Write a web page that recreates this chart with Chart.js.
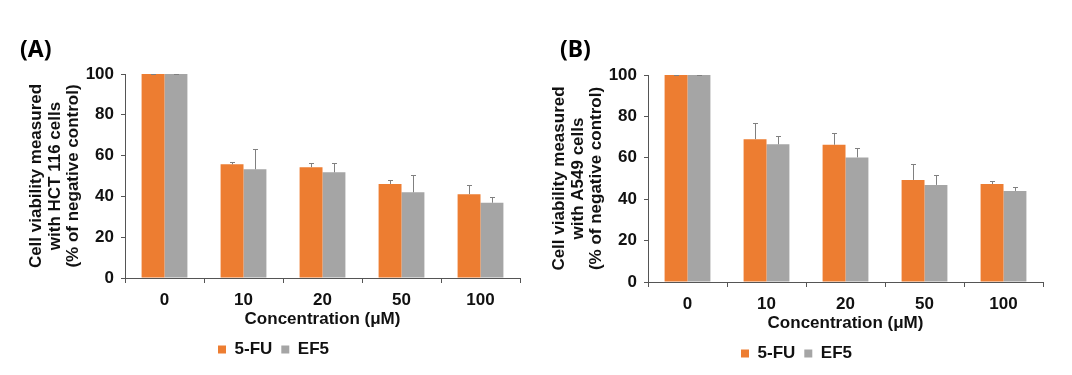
<!DOCTYPE html>
<html>
<head>
<meta charset="utf-8">
<script src="https://cdn.jsdelivr.net/npm/chart.js@4.4.1/dist/chart.umd.min.js"></script>
<style>
  body { margin: 0; background: #fff; width: 1072px; height: 375px; overflow: hidden; position: relative; }
  .panel { position: absolute; top: 0; height: 375px; }
</style>
</head>
<body>
<div class="panel" style="left:0;width:522px"><canvas id="chartA"></canvas></div>
<div class="panel" style="left:530px;width:515px"><canvas id="chartB"></canvas></div>
<script>
// concentrations (µM)
const concentrations = ['0', '10', '20', '50', '100'];

// (A) HCT 116 cells
const fuHct = [100, 55.7, 54.3, 46.1, 41.1];
const ef5Hct = [100, 53.3, 51.8, 42.0, 36.9];
const fuHctErr = [0, 1.3, 2.0, 2.0, 4.6];
const ef5HctErr = [0, 9.8, 4.7, 8.5, 2.6];

// (B) A549 cells
const fuA549 = [100, 69.0, 66.3, 49.3, 47.3];
const ef5A549 = [100, 66.5, 60.2, 46.9, 44.0];
const fuA549Err = [0, 7.9, 5.6, 7.5, 1.7];
const ef5A549Err = [0, 4.0, 4.3, 4.7, 1.7];

const FONT = "'Liberation Sans', Arial, sans-serif";
const TEXT = '#111';
const AXIS = '#555';

// upper error bars, drawn after the bars
const errorBars = {
  id: 'errorBars',
  afterDatasetsDraw(chart) {
    const { ctx } = chart;
    const yScale = chart.scales.y;
    ctx.save();
    ctx.strokeStyle = '#808080';
    ctx.lineWidth = 1;
    chart.data.datasets.forEach((ds, i) => {
      chart.getDatasetMeta(i).data.forEach((bar, j) => {
        const top = Math.round(yScale.getPixelForValue(ds.data[j] + ds.errors[j])) + 0.5;
        const x = Math.round(bar.x) + 0.5;
        ctx.beginPath();
        ctx.moveTo(x, bar.y);
        ctx.lineTo(x, top);
        ctx.moveTo(x - 2.5, top);
        ctx.lineTo(x + 2.5, top);
        ctx.stroke();
      });
    });
    ctx.restore();
  }
};

// "(A)" / "(B)" panel letters
const panelLabel = {
  id: 'panelLabel',
  afterDraw(chart, args, opts) {
    const { ctx } = chart;
    ctx.save();
    ctx.font = "bold 23px 'Noto Sans', sans-serif";
    ctx.fillStyle = '#000';
    ctx.textBaseline = 'middle';
    ctx.fillText(opts.text, opts.x, opts.y);
    ctx.restore();
  }
};

const makeChart = (id, cfg) => {
  const ctx = document.getElementById(id).getContext('2d');
  return new Chart(ctx, {
    type: 'bar',
    data: {
      labels: concentrations,
      datasets: [{
        label: '5-FU',
        data: cfg.fu,
        errors: cfg.fuErr,
        backgroundColor: '#ED7D31',
        categoryPercentage: 0.58,
        barPercentage: 1.0
      }, {
        label: 'EF5',
        data: cfg.ef5,
        errors: cfg.ef5Err,
        backgroundColor: '#A5A5A5',
        categoryPercentage: 0.58,
        barPercentage: 1.0
      }]
    },
    plugins: [errorBars, panelLabel],
    options: {
      responsive: true,
      maintainAspectRatio: false,
      animation: false,
      layout: { padding: { left: cfg.padLeft, right: 2, top: cfg.padTop, bottom: cfg.padBottom } },
      plugins: {
        tooltip: { enabled: false },
        panelLabel: { text: cfg.letter, x: cfg.letterX, y: 50 },
        legend: {
          position: 'bottom',
          align: 'center',
          labels: {
            boxWidth: 8,
            boxHeight: 8,
            padding: 9,
            color: TEXT,
            font: { family: FONT, size: 17, weight: 'bold' }
          }
        }
      },
      scales: {
        x: {
          afterFit: (scale) => { scale.height = 54; },
          grid: { offset: true, drawOnChartArea: false, tickLength: 5, color: AXIS },
          border: { color: AXIS },
          ticks: { padding: 7, color: TEXT, font: { family: FONT, size: 17, weight: 'bold' } },
          title: {
            display: true,
            text: 'Concentration (μM)',
            color: TEXT,
            padding: { top: 0, bottom: 2 },
            font: { family: FONT, size: 17, weight: 'bold' }
          }
        },
        y: {
          min: 0,
          max: 100,
          afterFit: (scale) => { scale.width = 98; },
          grid: { drawOnChartArea: false, tickLength: 4, color: AXIS },
          border: { color: AXIS },
          ticks: { stepSize: 20, padding: 7, color: TEXT, font: { family: FONT, size: 17, weight: 'bold' } },
          title: {
            display: true,
            text: cfg.yTitle,
            color: TEXT,
            padding: { top: 0, bottom: 0 },
            font: { family: FONT, size: 17, weight: 'bold', lineHeight: 1.1 }
          }
        }
      }
    }
  });
};

makeChart('chartA', {
  fu: fuHct, ef5: ef5Hct, fuErr: fuHctErr, ef5Err: ef5HctErr,
  yTitle: ['Cell viability measured', 'with HCT 116 cells', '(% of negative control)'],
  letter: '(A)', letterX: 20,
  padLeft: 27, padTop: 74, padBottom: 7
});

makeChart('chartB', {
  fu: fuA549, ef5: ef5A549, fuErr: fuA549Err, ef5Err: ef5A549Err,
  yTitle: ['Cell viability measured', 'with A549 cells', '(% of negative control)'],
  letter: '(B)', letterX: 30,
  padLeft: 20, padTop: 75, padBottom: 3
});
</script>
</body>
</html>
